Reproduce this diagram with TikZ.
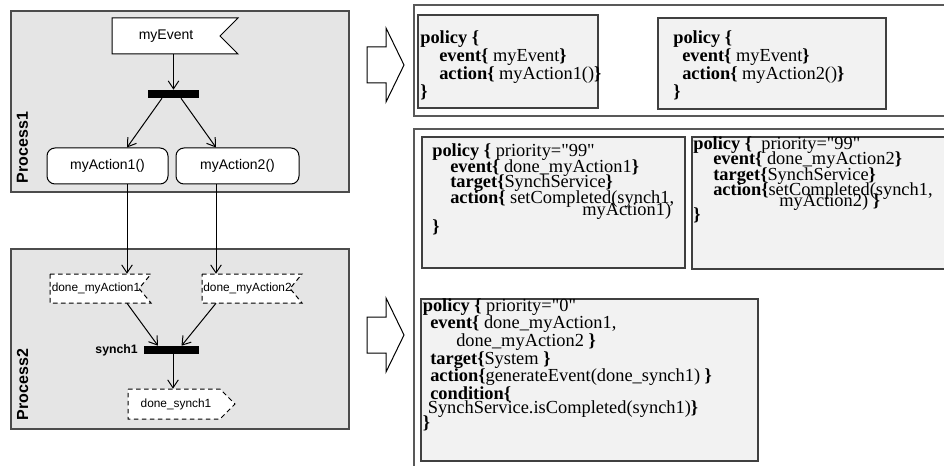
\documentclass[tikz,border=0pt]{standalone}
\usepackage{fontspec}
\setmainfont{Liberation Serif}[Ligatures=TeXOff]
\newfontfamily\sansf{Liberation Sans}
\usetikzlibrary{arrows.meta}
% one drawing unit
\newdimen\pxu \pxu=0.75pt
% policy listing: #1 = line distance in units, #2 = lines
\newcommand{\pcode}[2]{\parbox[t]{520\pxu}{\fontsize{13.8pt}{#1\pxu}\selectfont
  \lineskiplimit=-100pt\relax\lineskip=0pt\relax #2}}
\tikzset{
  lane/.style={draw=black!70, line width=1.5\pxu, fill=black!10},
  lanelabel/.style={font=\sansf\bfseries\fontsize{12pt}{14pt}\selectfont, rotate=90, inner sep=0},
  flag/.style={draw=black, line width=1\pxu, fill=white},
  dflag/.style={flag, dash pattern=on 3.5pt off 2.5pt},
  flagtext/.style={font=\sansf\fontsize{10.5pt}{12pt}\selectfont, inner sep=0},
  smalltext/.style={font=\sansf\fontsize{8.9pt}{10pt}\selectfont, inner sep=0},
  actbox/.style={draw=black, line width=1\pxu, fill=white, rounded corners=6pt,
    minimum height=36\pxu, inner sep=0, font=\sansf\fontsize{10.5pt}{12pt}\selectfont},
  syncbar/.style={fill=black, draw=none, inner sep=0, minimum height=8\pxu},
  arr/.style={draw=black, line width=1\pxu, -{Straight Barb[length=6pt,width=8pt]}},
  container/.style={draw=black!65, line width=1.5\pxu},
  pbox/.style={draw=black!75, line width=1.6\pxu, fill=black!5},
  blockarrow/.style={draw=black, line width=1\pxu, fill=white, line join=miter},
  code/.style={anchor=base west, inner sep=0}
}
\begin{document}
\begin{tikzpicture}[x=0.75pt, y=-0.75pt]
\useasboundingbox (0,0) rectangle (944,466);
\clip (0,0) rectangle (944,466);

% ---------- swimlanes ----------
\draw[lane] (11,11) rectangle (349,192);
\draw[lane] (11,249) rectangle (349,429);
\node[lanelabel] (pl1) at (22.5,147.5) {Process1};
\node[lanelabel] (pl2) at (22.5,384.5) {Process2};

% ---------- Process1 ----------
\draw[flag] (112,18) -- (238,18) -- (220,36) -- (238,54) -- (112,54) -- cycle;
\node[flagtext, minimum width=108\pxu, minimum height=36\pxu] (ev) at (166,36) {myEvent};
\node[syncbar, minimum width=51\pxu] (b1) at (173.5,94) {};
\node[actbox, minimum width=121\pxu] (a1) at (107.5,166) {myAction1()};
\node[actbox, minimum width=123\pxu] (a2) at (237.5,166) {myAction2()};

% ---------- Process2 ----------
\draw[dflag] (50,274) -- (151,274) -- (139,288.5) -- (151,303) -- (50,303) -- cycle;
\draw[dflag] (202,274) -- (302,274) -- (290,288.5) -- (302,303) -- (202,303) -- cycle;
\node[smalltext, minimum height=29\pxu] (d1) at (96,288.5) {done\_myAction1};
\node[smalltext, minimum height=29\pxu] (d2) at (247.5,288.5) {done\_myAction2};
\node[syncbar, minimum width=55\pxu] (b2) at (171.5,350) {};
\node[smalltext, font=\sansf\bfseries\fontsize{9.2pt}{10pt}\selectfont, anchor=east] (s1) at (138,350) {synch1};
\draw[dflag] (128,389) -- (220,389) -- (235,404) -- (220,419) -- (128,419) -- cycle;
\node[smalltext, minimum height=30\pxu] (ds) at (176,404) {done\_synch1};

% ---------- flow ----------
\draw[arr] (ev.south -| b1.north) -- (b1.north);
\draw[arr] ([xshift=-11.5\pxu]b1.south) -- ([xshift=19.5\pxu]a1.north);
\draw[arr] ([xshift=7.5\pxu]b1.south) -- ([xshift=-21.5\pxu]a2.north);
\coordinate (a1o) at ([xshift=19.5\pxu]a1.south);
\coordinate (a2o) at ([xshift=-21.5\pxu]a2.south);
\draw[arr] (a1o) -- (a1o |- d1.north);
\draw[arr] (a2o) -- (a2o |- d2.north);
\draw[arr] ([xshift=31\pxu]d1.south) -- ([xshift=-13.5\pxu]b2.north);
\draw[arr] ([xshift=-31.5\pxu]d2.south) -- ([xshift=10\pxu]b2.north);
\draw[arr] ([xshift=1.5\pxu]b2.south) -- ([xshift=-3\pxu]ds.north);

% ---------- mapping arrows ----------
\draw[blockarrow] (367,47) -- (386,47) -- (386,28) -- (404,65) -- (386,102) -- (386,83) -- (367,83) -- cycle;
\draw[blockarrow] (367,317) -- (386,317) -- (386,298) -- (404,335) -- (386,372) -- (386,353) -- (367,353) -- cycle;

% ---------- generated policies ----------
\draw[container] (414,5) rectangle (960,116);
\draw[container] (414,129) rectangle (960,480);

\draw[pbox] (418,15) rectangle (598,108);
\draw[pbox] (658,18) rectangle (886,109);
\draw[pbox] (422,137) rectangle (685,268);
\draw[pbox] (692,137) rectangle (960,269);
\draw[pbox] (421,299) rectangle (758,461);

\node[code] (t1) at (420,43.5) {\pcode{18}{%
\textbf{policy \{}\\
\hspace*{19\pxu}\textbf{event\{} myEvent\textbf{\}}\\
\hspace*{19\pxu}\textbf{action\{} myAction1()\textbf{\}}\\
\textbf{\}}}};

\node[code] (t2) at (673,43.5) {\pcode{18}{%
\textbf{policy \{}\\
\hspace*{9\pxu}\textbf{event\{} myEvent\textbf{\}}\\
\hspace*{9\pxu}\textbf{action\{} myAction2()\textbf{\}}\\
\textbf{\}}}};

\node[code] (t3) at (432,157) {\pcode{15.5}{%
\textbf{policy \{} priority="99"\\
\hspace*{18\pxu}\textbf{event\{} done\_myAction1\textbf{\}}\\
\hspace*{18\pxu}\textbf{target\{}SynchService\textbf{\}}\\
\hspace*{18\pxu}\textbf{action\{} setCompleted(synch1,\\[-3.5\pxu]
\hspace*{150\pxu}myAction1)\\[1.5\pxu]
\textbf{\}}}};

\node[code] (t4) at (693,149.5) {\pcode{15.5}{%
\textbf{policy \{} \ priority="99"\\
\hspace*{20\pxu}\textbf{event\{} done\_myAction2\textbf{\}}\\
\hspace*{20\pxu}\textbf{target\{}SynchService\textbf{\}}\\
\hspace*{20\pxu}\textbf{action\{}setCompleted(synch1,\\[-4.5\pxu]
\hspace*{86\pxu}myAction2) \textbf{\}}\\[-1.5\pxu]
\textbf{\}}}};

\node[code] (t5) at (422.5,311) {\pcode{17.7}{%
\textbf{policy \{} priority="0"\\
\hspace*{7.5\pxu}\textbf{event\{} done\_myAction1,\\
\hspace*{33.5\pxu}done\_myAction2 \textbf{\}}\\
\hspace*{7.5\pxu}\textbf{target\{}System \textbf{\}}\\
\hspace*{7.5\pxu}\textbf{action\{}generateEvent(done\_synch1) \textbf{\}}\\
\hspace*{7.5\pxu}\textbf{condition\{}\\[-3.5\pxu]
\hspace*{5\pxu}SynchService.isCompleted(synch1)\textbf{\}}\\[-2.7\pxu]
\textbf{\}}}};
\end{tikzpicture}
\end{document}
